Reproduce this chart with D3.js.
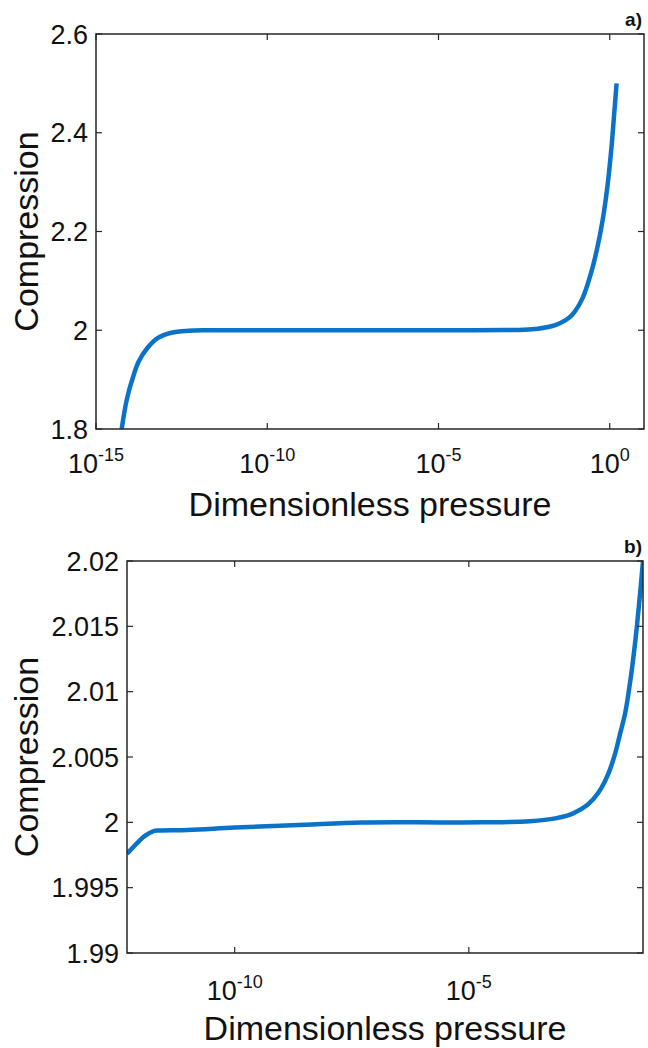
<!DOCTYPE html>
<html>
<head>
<meta charset="utf-8">
<script src="https://cdn.jsdelivr.net/npm/d3@7"></script>
<style>
  body { margin: 0; background: #fff; }
  svg text { font-family: "Liberation Sans", Arial, Helvetica, sans-serif; fill: #111; }
</style>
</head>
<body>
<div id="chart"></div>
<script>

// panel a) : log10 of dimensionless pressure and compression
var expA = [-14.25, -14.1, -13.92, -13.75, -13.5, -13.2, -12.8, -12.3, -11.7, -8, -4, -3.0, -2.5,
            -2.1, -1.8, -1.57, -1.3, -1.1, -0.8, -0.55, -0.37, -0.21, -0.07, 0.05, 0.12, 0.2];
var compA = [1.8, 1.86, 1.905, 1.937, 1.964, 1.984, 1.995, 1.999, 2.0, 2.0, 2.0, 2.0004, 2.0012,
             2.0032, 2.0065, 2.011, 2.02, 2.031, 2.064, 2.115, 2.165, 2.222, 2.29, 2.37, 2.43, 2.5];

// panel b) : zoom on the plateau
var expB = [-12.3, -12.1, -11.91, -11.72, -11.62, -11.0, -10.0, -8.5, -7.3, -6.2, -4.7, -3.7,
            -3.15, -2.77, -2.47, -2.23, -2.04, -1.89, -1.78, -1.66, -1.585, -1.5, -1.41, -1.34, -1.28];
var compB = [1.99759, 1.99835, 1.99898, 1.99934, 1.99938, 1.99942, 1.9996, 1.99982, 1.99998, 2.0, 2.0, 2.00008,
             2.0003, 2.00069, 2.00132, 2.00228, 2.00355, 2.00508, 2.00662, 2.00838, 2.01, 2.0122, 2.015, 2.0176, 2.02];

// axes limits and ticks
var xLimA = [1e-15, 10], yLimA = [1.8, 2.6];
var xTicksA = [-15, -10, -5, 0];
var yTicksA = [1.8, 2, 2.2, 2.4, 2.6];
var yLabelsA = ['1.8', '2', '2.2', '2.4', '2.6'];

var xLimB = [Math.pow(10, -12.3), Math.pow(10, -1.28)], yLimB = [1.99, 2.02];
var xTicksB = [-10, -5];
var yTicksB = [1.99, 1.995, 2, 2.005, 2.01, 2.015, 2.02];
var yLabelsB = ['1.99', '1.995', '2', '2.005', '2.01', '2.015', '2.02'];

var W = 648, H = 1048;
var lineColor = '#0a72c8', axisColor = '#262626';

var svg = d3.select('#chart')
    .append('svg')
    .attr('width', W)
    .attr('height', H);

function drawPanel(p) {
    var x = d3.scaleLog().domain(p.xLim).range([p.left, p.right]);
    var y = d3.scaleLinear().domain(p.yLim).range([p.bottom, p.top]);
    var g = svg.append('g');

    g.append('clipPath')
        .attr('id', 'clip' + p.id)
        .append('rect')
        .attr('x', p.left).attr('y', p.top)
        .attr('width', p.right - p.left).attr('height', p.bottom - p.top);

    var data = p.exps.map((e, i) => ({ p: Math.pow(10, e), c: p.comps[i] }));
    var line = d3.line()
        .x(d => x(d.p))
        .y(d => y(d.c))
        .curve(d3.curveCatmullRom.alpha(0.5));

    g.append('path')
        .datum(data)
        .attr('clip-path', 'url(#clip' + p.id + ')')
        .attr('d', line)
        .attr('fill', 'none')
        .attr('stroke', lineColor)
        .attr('stroke-width', 4.5)
        .attr('stroke-linejoin', 'round');

    // ticks, inside, mirrored on top and right (MATLAB box on)
    var tl = 6;
    p.xTicks.forEach(function (e) {
        var px = x(Math.pow(10, e));
        g.append('line').attr('x1', px).attr('x2', px).attr('y1', p.bottom).attr('y2', p.bottom - tl)
            .attr('stroke', axisColor).attr('stroke-width', 1.2);
        g.append('line').attr('x1', px).attr('x2', px).attr('y1', p.top).attr('y2', p.top + tl)
            .attr('stroke', axisColor).attr('stroke-width', 1.2);
        var t = g.append('text')
            .attr('x', px)
            .attr('y', p.bottom + p.xLabelGap)
            .attr('text-anchor', 'middle')
            .style('font-size', '27px');
        t.append('tspan').text('10');
        t.append('tspan').attr('dy', -12).style('font-size', '18px').text(String(e));
    });

    p.yTicks.forEach(function (v, i) {
        var py = y(v);
        g.append('line').attr('x1', p.left).attr('x2', p.left + tl).attr('y1', py).attr('y2', py)
            .attr('stroke', axisColor).attr('stroke-width', 1.2);
        g.append('line').attr('x1', p.right).attr('x2', p.right - tl).attr('y1', py).attr('y2', py)
            .attr('stroke', axisColor).attr('stroke-width', 1.2);
        g.append('text')
            .attr('x', p.left - 8)
            .attr('y', py)
            .attr('dy', '0.36em')
            .attr('text-anchor', 'end')
            .style('font-size', '27px')
            .text(p.yLabels[i]);
    });

    g.append('rect')
        .attr('x', p.left).attr('y', p.top)
        .attr('width', p.right - p.left).attr('height', p.bottom - p.top)
        .attr('fill', 'none')
        .attr('stroke', axisColor)
        .attr('stroke-width', 1.5);

    g.append('text')
        .attr('x', (p.left + p.right) / 2)
        .attr('y', p.bottom + 87)
        .attr('text-anchor', 'middle')
        .style('font-size', '34px')
        .text('Dimensionless pressure');

    g.append('text')
        .attr('transform', `translate(38,${(p.top + p.bottom) / 2}) rotate(-90)`)
        .attr('text-anchor', 'middle')
        .style('font-size', '34px')
        .text('Compression');

    g.append('text')
        .attr('x', 642)
        .attr('y', p.top - 8)
        .attr('text-anchor', 'end')
        .style('font-size', '19px')
        .style('font-weight', 'bold')
        .text(p.tag);
}

drawPanel({ id: 'a', tag: 'a)', left: 96, right: 644, top: 34, bottom: 429, xLabelGap: 44,
    xLim: xLimA, yLim: yLimA, xTicks: xTicksA, yTicks: yTicksA, yLabels: yLabelsA, exps: expA, comps: compA });

drawPanel({ id: 'b', tag: 'b)', left: 127, right: 643, top: 561, bottom: 953, xLabelGap: 47,
    xLim: xLimB, yLim: yLimB, xTicks: xTicksB, yTicks: yTicksB, yLabels: yLabelsB, exps: expB, comps: compB });

</script>
</body>
</html>
